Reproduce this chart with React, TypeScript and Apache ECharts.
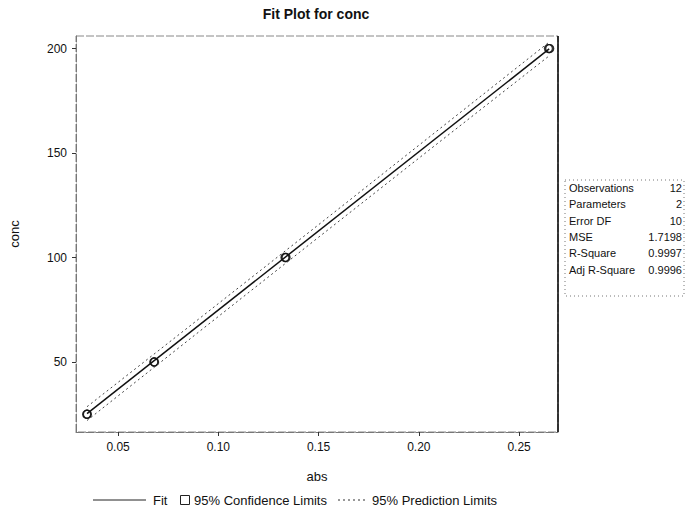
import React, { useEffect, useRef } from "react";
import * as echarts from "echarts";

// Observations (abs, conc) — replicates overlap on screen
const obsAbs = [0.0343, 0.0345, 0.0347, 0.0678, 0.068, 0.0682, 0.1332, 0.1335, 0.1338, 0.2646, 0.265, 0.2653];
const obsConc = [25, 25, 25, 50, 50, 50, 100, 100, 100, 200, 200, 200];

// Fitted line
const fitAbs = [0.0345, 0.265];
const fitConc = [25.3, 199.8];

// Limits
const limAbs = [0.0345, 0.09, 0.15, 0.21, 0.265];
const confLower = [24.0, 66.4, 111.9, 157.2, 198.4];
const confUpper = [26.6, 68.2, 113.5, 159.2, 201.2];
const predLower = [22.0, 64.2, 109.7, 155.1, 196.5];
const predUpper = [28.6, 70.4, 115.7, 161.3, 203.1];

// Axis ticks
const xTicks = [0.05, 0.1, 0.15, 0.2, 0.25];
const yTicks = [50, 100, 150, 200];

// Fit statistics table
const statLabels = ["Observations", "Parameters", "Error DF", "MSE", "R-Square", "Adj R-Square"];
const statValues = ["12", "2", "10", "1.7198", "0.9997", "0.9996"];

const FONT = "'Liberation Sans', Arial, sans-serif";

export default function App() {
  const ref = useRef<HTMLDivElement>(null);

  useEffect(() => {
    if (!ref.current) return;
    const chart = echarts.init(ref.current, undefined, { renderer: "svg" });

    const pair = (xs: number[], ys: number[]) => xs.map((x, i) => [x, ys[i]]);
    const bandDiff = confUpper.map((u, i) => u - confLower[i]);

    const left = 75, top = 36, right = 558, bottom = 432;

    const tableX0 = 565, tableY0 = 180, rowH = 16.3;
    const tableEls: any[] = [
      {
        type: "rect",
        shape: { x: tableX0, y: tableY0, width: 119, height: 116 },
        style: { fill: "none", stroke: "#777", lineWidth: 1, lineDash: [1, 3] },
      },
    ];
    statLabels.forEach((lab, i) => {
      const y = tableY0 + 8 + rowH * i;
      tableEls.push({
        type: "text",
        x: tableX0 + 4,
        y,
        style: { text: lab, font: `11px ${FONT}`, fill: "#111", textAlign: "left", textVerticalAlign: "middle" },
      });
      tableEls.push({
        type: "text",
        x: tableX0 + 117,
        y,
        style: { text: statValues[i], font: `11px ${FONT}`, fill: "#111", textAlign: "right", textVerticalAlign: "middle" },
      });
    });

    const ly = 500;
    const legendEls: any[] = [
      { type: "line", shape: { x1: 93, y1: ly, x2: 146, y2: ly }, style: { stroke: "#222", lineWidth: 1 } },
      { type: "text", x: 153, y: ly, style: { text: "Fit", font: `13px ${FONT}`, fill: "#111", textVerticalAlign: "middle" } },
      { type: "rect", shape: { x: 180.5, y: ly - 4.5, width: 9, height: 9 }, style: { fill: "#fff", stroke: "#222", lineWidth: 1 } },
      { type: "text", x: 194, y: ly, style: { text: "95% Confidence Limits", font: `13px ${FONT}`, fill: "#111", textVerticalAlign: "middle" } },
      { type: "line", shape: { x1: 338, y1: ly, x2: 366, y2: ly }, style: { stroke: "#333", lineWidth: 1, lineDash: [2, 3] } },
      { type: "text", x: 372, y: ly, style: { text: "95% Prediction Limits", font: `13px ${FONT}`, fill: "#111", textVerticalAlign: "middle" } },
    ];

    chart.setOption({
      animation: false,
      backgroundColor: "#fff",
      textStyle: { fontFamily: FONT },
      grid: {
        left,
        top,
        width: right - left,
        height: bottom - top,
        show: true,
        borderColor: "#888",
        borderWidth: 1,
        borderType: [8, 2],
      },
      xAxis: {
        type: "value",
        min: 0.029,
        max: 0.2694,
        name: "abs",
        nameLocation: "middle",
        nameGap: 38,
        nameTextStyle: { fontSize: 13, color: "#111", fontFamily: FONT },
        axisLine: { show: true, lineStyle: { color: "#777", width: 1, type: [8, 2] } },
        axisTick: { show: true, length: 4, lineStyle: { color: "#333" }, customValues: xTicks },
        axisLabel: {
          customValues: xTicks,
          fontSize: 12,
          color: "#111",
          margin: 9,
          fontFamily: FONT,
          formatter: (v: number) => v.toFixed(2),
        },
        splitLine: { show: false },
      },
      yAxis: {
        type: "value",
        min: 16.5,
        max: 206,
        name: "conc",
        nameLocation: "middle",
        nameGap: 55,
        nameRotate: 90,
        nameTextStyle: { fontSize: 13, color: "#111", fontFamily: FONT },
        axisLine: { show: true, lineStyle: { color: "#777", width: 1, type: [8, 2] } },
        axisTick: { show: true, length: 4, lineStyle: { color: "#333" }, customValues: yTicks },
        axisLabel: {
          customValues: yTicks,
          fontSize: 12,
          color: "#111",
          margin: 9,
          fontFamily: FONT,
        },
        splitLine: { show: false },
      },
      series: [
        {
          type: "line",
          data: pair(limAbs, confLower),
          stack: "conf",
          symbol: "none",
          lineStyle: { opacity: 0 },
          silent: true,
        },
        {
          type: "line",
          data: pair(limAbs, bandDiff),
          stack: "conf",
          symbol: "none",
          lineStyle: { opacity: 0 },
          areaStyle: { color: "#f0f0f0" },
          silent: true,
        },
        {
          type: "line",
          data: pair(limAbs, predLower),
          symbol: "none",
          lineStyle: { color: "#444", width: 1, type: [2, 3] },
        },
        {
          type: "line",
          data: pair(limAbs, predUpper),
          symbol: "none",
          lineStyle: { color: "#444", width: 1, type: [2, 3] },
        },
        {
          type: "line",
          data: pair(fitAbs, fitConc),
          symbol: "none",
          lineStyle: { color: "#111", width: 1.5 },
        },
        {
          type: "scatter",
          data: pair(obsAbs, obsConc),
          symbol: "circle",
          symbolSize: 8,
          itemStyle: { color: "rgba(255,255,255,0)", borderColor: "#111", borderWidth: 1.2 },
        },
      ],
      graphic: [
        {
          type: "text",
          x: 316,
          y: 14,
          style: { text: "Fit Plot for conc", font: `bold 14px ${FONT}`, fill: "#111", textAlign: "center", textVerticalAlign: "middle" },
        },
        {
          type: "line",
          shape: { x1: right, y1: top, x2: right, y2: bottom },
          style: { stroke: "#000", lineWidth: 1.5 },
          z: 10,
        },
        ...tableEls,
        ...legendEls,
      ],
    });

    return () => chart.dispose();
  }, []);

  return <div ref={ref} style={{ position: "fixed", left: 0, top: 0, width: 686, height: 514 }} />;
}
